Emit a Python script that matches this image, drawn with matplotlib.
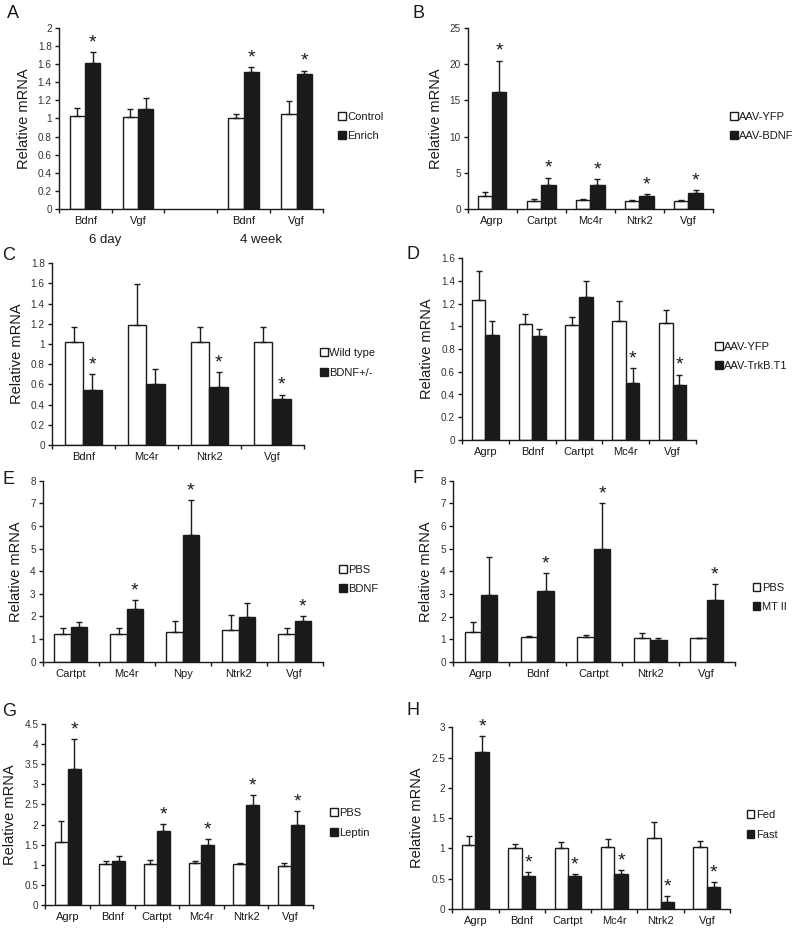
"""
Relative mRNA levels across eight experiments (panels A-H), drawn as
paired bar charts with upward error bars and significance stars.
"""
import matplotlib
matplotlib.use('Agg')
import matplotlib.pyplot as plt
from matplotlib.patches import Patch

plt.rcParams['font.family'] = ['Liberation Sans', 'DejaVu Sans']

# --- Panel A: environmental enrichment -------------------------------------
a_genes = ['Bdnf', 'Vgf', 'Bdnf', 'Vgf']
a_slots = [0, 1, 3, 4]
a_groups = ['Control', 'Enrich']
a_ctrl = [1.03, 1.02, 1.01, 1.05]
a_ctrl_err = [0.09, 0.09, 0.045, 0.14]
a_trt = [1.61, 1.10, 1.51, 1.49]
a_trt_err = [0.12, 0.13, 0.06, 0.04]
a_stars = [1, 0, 1, 1]
a_periods = ['6 day', '4 week']

# --- Panel B: AAV-BDNF -----------------------------------------------------
b_genes = ['Agrp', 'Cartpt', 'Mc4r', 'Ntrk2', 'Vgf']
b_groups = ['AAV-YFP', 'AAV-BDNF']
b_ctrl = [1.75, 1.15, 1.2, 1.05, 1.05]
b_ctrl_err = [0.65, 0.25, 0.15, 0.15, 0.15]
b_trt = [16.2, 3.35, 3.35, 1.75, 2.2]
b_trt_err = [4.3, 1.0, 0.75, 0.3, 0.4]
b_stars = [1, 1, 1, 1, 1]

# --- Panel C: BDNF heterozygous --------------------------------------------
c_genes = ['Bdnf', 'Mc4r', 'Ntrk2', 'Vgf']
c_groups = ['Wild type', 'BDNF+/-']
c_ctrl = [1.02, 1.19, 1.02, 1.02]
c_ctrl_err = [0.145, 0.40, 0.145, 0.145]
c_trt = [0.545, 0.60, 0.57, 0.46]
c_trt_err = [0.155, 0.15, 0.15, 0.04]
c_stars = [1, 0, 1, 1]

# --- Panel D: AAV-TrkB.T1 --------------------------------------------------
d_genes = ['Agrp', 'Bdnf', 'Cartpt', 'Mc4r', 'Vgf']
d_groups = ['AAV-YFP', 'AAV-TrkB.T1']
d_ctrl = [1.23, 1.02, 1.01, 1.05, 1.03]
d_ctrl_err = [0.26, 0.09, 0.07, 0.17, 0.11]
d_trt = [0.925, 0.91, 1.26, 0.50, 0.48]
d_trt_err = [0.125, 0.07, 0.14, 0.13, 0.095]
d_stars = [0, 0, 0, 1, 1]

# --- Panel E: BDNF injection -----------------------------------------------
e_genes = ['Cartpt', 'Mc4r', 'Npy', 'Ntrk2', 'Vgf']
e_groups = ['PBS', 'BDNF']
e_ctrl = [1.21, 1.21, 1.33, 1.41, 1.24]
e_ctrl_err = [0.26, 0.26, 0.45, 0.65, 0.26]
e_trt = [1.55, 2.34, 5.60, 1.97, 1.80]
e_trt_err = [0.2, 0.39, 1.53, 0.63, 0.22]
e_stars = [0, 1, 1, 0, 1]

# --- Panel F: MT II injection ----------------------------------------------
f_genes = ['Agrp', 'Bdnf', 'Cartpt', 'Ntrk2', 'Vgf']
f_groups = ['PBS', 'MT II']
f_ctrl = [1.32, 1.09, 1.09, 1.04, 1.04]
f_ctrl_err = [0.46, 0.06, 0.09, 0.22, 0.0]
f_trt = [2.97, 3.15, 5.0, 0.97, 2.74]
f_trt_err = [1.65, 0.79, 2.0, 0.07, 0.70]
f_stars = [0, 1, 1, 0, 1]

# --- Panel G: leptin injection ---------------------------------------------
g_genes = ['Agrp', 'Bdnf', 'Cartpt', 'Mc4r', 'Ntrk2', 'Vgf']
g_groups = ['PBS', 'Leptin']
g_ctrl = [1.57, 1.01, 1.01, 1.04, 1.01, 0.98]
g_ctrl_err = [0.53, 0.09, 0.12, 0.06, 0.04, 0.06]
g_trt = [3.39, 1.085, 1.85, 1.49, 2.49, 2.0]
g_trt_err = [0.74, 0.145, 0.17, 0.14, 0.24, 0.34]
g_stars = [1, 0, 1, 1, 1, 1]

# --- Panel H: fed vs fasted ------------------------------------------------
h_genes = ['Agrp', 'Bdnf', 'Cartpt', 'Mc4r', 'Ntrk2', 'Vgf']
h_groups = ['Fed', 'Fast']
h_ctrl = [1.05, 1.01, 1.01, 1.03, 1.17, 1.03]
h_ctrl_err = [0.15, 0.06, 0.10, 0.13, 0.27, 0.10]
h_trt = [2.59, 0.545, 0.545, 0.57, 0.12, 0.36]
h_trt_err = [0.27, 0.065, 0.035, 0.07, 0.10, 0.085]
h_stars = [1, 1, 1, 1, 1, 1]

FIG_W, FIG_H = 800, 930
INK = '#1a1a1a'
BAR_W = 0.29


def px_rect(left, top, right, bottom):
    """Pixel box (from top-left) -> figure-fraction rect."""
    return [left / FIG_W, 1 - bottom / FIG_H, (right - left) / FIG_W, (bottom - top) / FIG_H]


def draw_panel(fig, rect, letter, letter_xy, legend_xy, genes, groups,
               ctrl, ctrl_err, trt, trt_err, stars, ymax, ystep, slots=None, nslots=None):
    """One paired bar chart with error bars, stars and a side legend."""
    ax = fig.add_axes(px_rect(*rect))
    if slots is None:
        slots = list(range(len(genes)))
    if nslots is None:
        nslots = len(genes)
    centers = [s + 0.5 for s in slots]
    x_ctrl = [c - BAR_W / 2 for c in centers]
    x_trt = [c + BAR_W / 2 for c in centers]

    ekw = dict(ecolor=INK, elinewidth=1.0, capsize=2.5, capthick=1.0)
    ax.bar(x_ctrl, ctrl, BAR_W, color='white', edgecolor=INK, linewidth=1.0,
           yerr=[[0] * len(ctrl), ctrl_err], error_kw=ekw, zorder=2)
    ax.bar(x_trt, trt, BAR_W, color=INK, edgecolor=INK, linewidth=1.0,
           yerr=[[0] * len(trt), trt_err], error_kw=ekw, zorder=2)

    for x, m, e, s in zip(x_trt, trt, trt_err, stars):
        if s:
            ax.annotate('*', xy=(x, m + e), xytext=(0, 0.5), textcoords='offset points',
                        ha='center', va='bottom', fontsize=14, color=INK)

    ax.set_xlim(0, nslots)
    ax.set_ylim(0, ymax)
    nt = int(round(ymax / ystep))
    yt = [round(i * ystep, 4) for i in range(nt + 1)]
    ax.set_yticks(yt)
    ax.set_yticklabels(['%g' % v for v in yt])
    ax.set_xticks(range(nslots + 1))
    ax.set_xticklabels([])
    ax.set_xticks(centers, minor=True)
    ax.set_xticklabels(genes, minor=True)
    ax.tick_params(axis='x', which='major', length=3, width=1.0, direction='out', color=INK)
    ax.tick_params(axis='x', which='minor', length=0, pad=5, labelsize=8, labelcolor=INK)
    ax.tick_params(axis='y', length=3, width=1.0, direction='out', labelsize=7.2,
                   color=INK, labelcolor='#333333', pad=2)
    for side in ('top', 'right'):
        ax.spines[side].set_visible(False)
    for side in ('left', 'bottom'):
        ax.spines[side].set_linewidth(1.0)
        ax.spines[side].set_color(INK)
    ax.set_ylabel('Relative mRNA', fontsize=10.5, color=INK, labelpad=5)

    fig.text(letter_xy[0] / FIG_W, 1 - letter_xy[1] / FIG_H, letter,
             fontsize=13, color=INK, ha='left', va='center')

    handles = [Patch(facecolor='white', edgecolor=INK, linewidth=1.0),
               Patch(facecolor=INK, edgecolor=INK, linewidth=1.0)]
    fig.legend(handles, groups, loc='center left',
               bbox_to_anchor=(legend_xy[0] / FIG_W, 1 - legend_xy[1] / FIG_H),
               frameon=False, fontsize=8, handlelength=0.7, handleheight=0.7,
               handletextpad=0.15, labelspacing=0.85, borderpad=0, borderaxespad=0,
               labelcolor=INK)
    return ax


def main():
    fig = plt.figure(figsize=(FIG_W / 100, FIG_H / 100), dpi=100)

    ax_a = draw_panel(fig, (58.7, 28, 323, 209), 'A', (7, 14), (338, 126.5),
                      a_genes, a_groups, a_ctrl, a_ctrl_err, a_trt, a_trt_err, a_stars,
                      2.0, 0.2, slots=a_slots, nslots=5)
    for xpos, label in zip((0.88, 3.82), a_periods):
        ax_a.annotate(label, xy=(xpos, 0), xycoords=('data', 'axes fraction'),
                      xytext=(0, -22), textcoords='offset points',
                      ha='center', va='center', fontsize=9.5, color=INK)

    draw_panel(fig, (467.7, 28, 713, 209), 'B', (413, 14), (730, 126.5),
               b_genes, b_groups, b_ctrl, b_ctrl_err, b_trt, b_trt_err, b_stars, 25, 5)
    draw_panel(fig, (51.7, 263.3, 304, 445), 'C', (2, 256), (320, 363),
               c_genes, c_groups, c_ctrl, c_ctrl_err, c_trt, c_trt_err, c_stars, 1.8, 0.2)
    draw_panel(fig, (462, 258, 696, 440), 'D', (407, 254), (715, 356.5),
               d_genes, d_groups, d_ctrl, d_ctrl_err, d_trt, d_trt_err, d_stars, 1.6, 0.2)
    draw_panel(fig, (42.7, 480.7, 322.7, 661.7), 'E', (2, 479), (339, 579.5),
               e_genes, e_groups, e_ctrl, e_ctrl_err, e_trt, e_trt_err, e_stars, 8, 1)
    draw_panel(fig, (452.7, 480.7, 735, 662), 'F', (412, 478), (752.7, 597.5),
               f_genes, f_groups, f_ctrl, f_ctrl_err, f_trt, f_trt_err, f_stars, 8, 1)
    draw_panel(fig, (45.3, 724, 313, 905), 'G', (2, 711), (330, 823),
               g_genes, g_groups, g_ctrl, g_ctrl_err, g_trt, g_trt_err, g_stars, 4.5, 0.5)
    draw_panel(fig, (452.3, 727.3, 730, 909), 'H', (407, 710), (746.7, 825),
               h_genes, h_groups, h_ctrl, h_ctrl_err, h_trt, h_trt_err, h_stars, 3, 0.5)

    fig.savefig('out.png', dpi=100)


if __name__ == "__main__":
    main()
